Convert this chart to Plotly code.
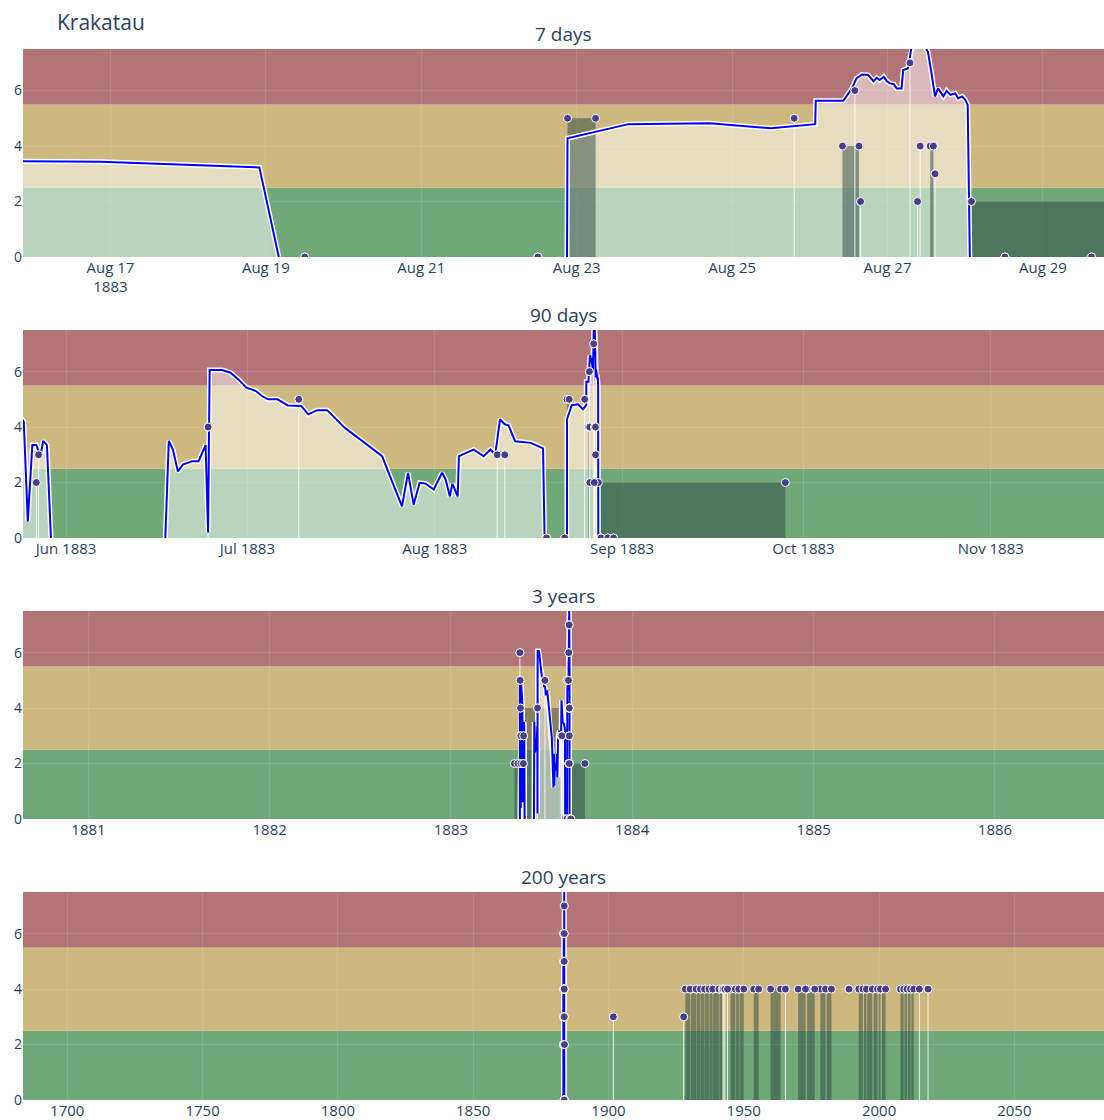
import plotly.graph_objects as go
from plotly.subplots import make_subplots
from datetime import datetime, timedelta

TITLE = "Krakatau"
PANEL_TITLES = ["7 days", "90 days", "3 years", "200 years"]

# Centre of every window and the half-width of each panel, in days
CENTER = datetime(1883, 8, 22, 21, 0)
HALF_WINDOW_DAYS = [7, 90, 3 * 365.25, 200 * 365.25]
TICK_STEPS = [2 * 86400000, "M1", "M12", "M600"]
# share of each window that fits inside the page width
VISIBLE_SHARE = [0.9936, 0.9936, 0.9936, 0.9987]

# Alert bands on the level axis
BAND_LOW = [0, 2.5, 5.5]
BAND_HIGH = [2.5, 5.5, 8.0]
BAND_COLORS = ["rgb(112,168,121)", "rgb(205,184,127)", "rgb(178,116,119)"]

# Activity index; None separates the active episodes
ACT_TIME = [
    "1883-05-20 00:00", "1883-05-20 02:00", "1883-05-21 00:00", "1883-05-21 18:00",
    "1883-05-22 12:00", "1883-05-23 12:00", "1883-05-24 08:00", "1883-05-25 00:00",
    "1883-05-25 16:00", "1883-05-26 10:00", "1883-05-27 02:00", "1883-05-27 18:00",
    "1883-05-28 05:00", "1883-05-28 20:00", "1883-05-29 12:00", None,
    "1883-06-17 10:00", "1883-06-18 00:00", "1883-06-18 16:00", "1883-06-19 12:00",
    "1883-06-20 08:00", "1883-06-21 22:00", "1883-06-22 22:00", "1883-06-24 02:00",
    "1883-06-24 12:00", "1883-06-24 18:00", "1883-06-26 20:00", "1883-06-28 05:00",
    "1883-06-29 12:00", "1883-06-30 20:00", "1883-07-02 10:00", "1883-07-03 10:00",
    "1883-07-04 10:00", "1883-07-06 00:00", "1883-07-07 16:00", "1883-07-09 22:00",
    "1883-07-11 02:00", "1883-07-12 13:00", "1883-07-14 05:00", "1883-07-15 12:00",
    "1883-07-17 02:00", "1883-07-20 10:00", "1883-07-23 07:00", "1883-07-24 14:00",
    "1883-07-26 14:00", "1883-07-27 14:00", "1883-07-28 12:00", "1883-07-29 12:00",
    "1883-07-30 12:00", "1883-07-31 20:00", "1883-08-02 05:00", "1883-08-02 19:00",
    "1883-08-03 12:00", "1883-08-03 22:00", "1883-08-04 19:00", "1883-08-05 00:00",
    "1883-08-07 10:00", "1883-08-09 02:00", "1883-08-10 05:00", "1883-08-11 00:00",
    "1883-08-11 19:00", "1883-08-12 14:00", "1883-08-13 05:00", "1883-08-14 07:00",
    "1883-08-16 21:00", "1883-08-18 22:00", "1883-08-19 04:00", None,
    "1883-08-22 21:00", "1883-08-22 21:10", "1883-08-23 16:00", "1883-08-24 17:00",
    "1883-08-25 12:00", "1883-08-26 01:40", "1883-08-26 01:50", "1883-08-26 10:20",
    "1883-08-26 13:00", "1883-08-26 14:24", "1883-08-26 16:05", "1883-08-26 18:00",
    "1883-08-26 19:40", "1883-08-26 20:40", "1883-08-26 21:35", "1883-08-26 22:50",
    "1883-08-26 23:45", "1883-08-27 00:45", "1883-08-27 01:55", "1883-08-27 02:50",
    "1883-08-27 04:20", "1883-08-27 04:50", "1883-08-27 06:15", "1883-08-27 06:40",
    "1883-08-27 07:25", "1883-08-27 08:00", "1883-08-27 10:30", "1883-08-27 12:30",
    "1883-08-27 13:40", "1883-08-27 14:40", "1883-08-27 15:35", "1883-08-27 16:20",
    "1883-08-27 17:15", "1883-08-27 18:15", "1883-08-27 19:25", "1883-08-27 20:55",
    "1883-08-27 21:50", "1883-08-27 23:00", "1883-08-28 00:00", "1883-08-28 00:45",
    "1883-08-28 01:25",
]
ACT_LEVEL = [
    0, 4.9, 4.7, 0.4,
    4.9, 4.6, 4.4, 4.2,
    0.6, 3.35, 3.35, 2.95,
    3.5, 3.35, 0, None,
    0, 3.5, 3.2, 2.4,
    2.65, 2.77, 2.77, 3.35,
    0.2, 6.06, 6.06, 5.96,
    5.72, 5.42, 5.3, 5.12,
    5.0, 5.0, 4.78, 4.76,
    4.46, 4.61, 4.61, 4.34,
    3.98, 3.43, 2.95, 2.23,
    1.14, 2.35, 1.2, 1.99,
    1.96, 1.75, 2.35, 2.11,
    1.5, 1.96, 1.5, 2.95,
    3.19, 2.95, 3.19, 3.0,
    4.28, 4.1, 4.06, 3.49,
    3.43, 3.23, 0, None,
    0, 4.28, 4.79, 4.82,
    4.64, 4.79, 5.63, 5.63,
    6.08, 6.44, 6.58, 6.56,
    6.34, 6.46, 6.38, 6.5,
    6.34, 6.26, 6.23, 6.08,
    6.08, 6.74, 6.8, 7.01,
    7.6, 7.8, 7.8, 7.39,
    6.56, 5.79, 6.08, 5.96,
    5.79, 5.99, 5.85, 5.9,
    5.72, 5.79, 5.67, 5.49,
    0,
]

# Eruptive events: start, end and VEI
EV_START = [
    "1883-05-09 00:00", "1883-05-20 00:00", "1883-05-20 12:00", "1883-05-21 06:00",
    "1883-05-21 18:00", "1883-05-22 06:00", "1883-05-27 02:00", "1883-05-27 11:00",
    "1883-06-24 12:00", "1883-07-09 12:00", "1883-08-11 08:00", "1883-08-12 14:00",
    "1883-08-19 12:00", "1883-08-22 12:00", "1883-08-22 21:10", "1883-08-25 19:10",
    "1883-08-26 10:05", "1883-08-26 13:55", "1883-08-26 15:40", "1883-08-27 06:55",
    "1883-08-27 09:15", "1883-08-27 10:05", "1883-08-27 13:10", "1883-08-27 14:40",
    "1883-08-28 01:55", "1883-08-28 12:15", "1883-08-29 15:00", "1883-08-30 14:00",
    "1901-10-20", "1927-10-20",
    "1928-05-25", "1930-06-01", "1932-08-01", "1934-03-01", "1935-09-01",
    "1937-05-01", "1938-09-01", "1941-01-01", "1942-06-01", "1943-01-01",
    "1944-01-01", "1945-02-05", "1947-03-01", "1948-06-01", "1953-09-10",
    "1959-11-25", "1965-05-25", "1970-02-05", "1973-06-01", "1978-04-20",
    "1980-09-01", "1988-10-20", "1992-07-01", "1994-06-01", "1995-08-10",
    "1998-01-01", "1999-11-01", "2001-02-01", "2007-11-25", "2009-06-01",
    "2010-09-01", "2011-12-01", "2014-11-25", "2018-02-05",
]
EV_END = [
    "1883-05-16 00:00", "1883-05-20 00:00", "1883-05-20 12:00", "1883-05-21 06:00",
    "1883-05-21 18:00", "1883-05-22 06:00", "1883-05-27 02:00", "1883-05-27 11:00",
    "1883-06-24 12:00", "1883-07-09 12:00", "1883-08-11 08:00", "1883-08-12 14:00",
    "1883-08-19 12:00", "1883-08-22 12:00", "1883-08-23 05:50", "1883-08-25 19:10",
    "1883-08-26 15:10", "1883-08-26 13:55", "1883-08-26 15:40", "1883-08-27 06:55",
    "1883-08-27 09:15", "1883-08-27 10:05", "1883-08-27 14:10", "1883-08-27 14:40",
    "1883-09-28 00:00", "1883-08-28 12:15", "1883-08-29 15:00", "1883-08-30 14:00",
    "1901-10-20", "1927-10-20",
    "1930-03-01", "1932-05-25", "1934-01-01", "1935-07-01", "1937-02-05",
    "1938-07-01", "1940-10-20", "1942-01-01", "1942-06-01", "1943-01-01",
    "1944-01-01", "1946-11-25", "1948-03-01", "1950-01-01", "1955-07-01",
    "1963-08-10", "1965-05-25", "1972-10-20", "1976-03-15", "1980-03-15",
    "1982-05-25", "1988-11-20", "1994-01-01", "1995-05-01", "1997-07-01",
    "1999-06-01", "2000-07-01", "2002-05-25", "2009-02-05", "2010-04-20",
    "2011-08-10", "2012-10-20", "2014-11-25", "2018-02-05",
]
EV_VEI = [
    2, 6, 5, 4,
    3, 2, 2, 3,
    4, 5, 3, 3,
    0, 0, 5, 5,
    4, 6, 2, 7,
    2, 4, 4, 3,
    2, 0, 0, 0,
    3, 3,
    4, 4, 4, 4, 4,
    4, 4, 4, 4, 4,
    4, 4, 4, 4, 4,
    4, 4, 4, 4, 4,
    4, 4, 4, 4, 4,
    4, 4, 4, 4, 4,
    4, 4, 4, 4,
]

# Extended activity block that shows on the 3-year view
BLOCK_3Y_START = ["1883-05-28"]
BLOCK_3Y_END = ["1883-08-08"]
BLOCK_3Y_VEI = [4]


def boxes(starts, ends, veis):
    """Closed rectangles (baseline to level) for events with a duration."""
    bx, by = [], []
    for s, e, v in zip(starts, ends, veis):
        if s != e:
            bx += [s, s, e, e, s, None]
            by += [0, v, v, 0, 0, None]
    return bx, by


box_x, box_y = boxes(EV_START, EV_END, EV_VEI)
blk_x, blk_y = boxes(BLOCK_3Y_START, BLOCK_3Y_END, BLOCK_3Y_VEI)

# thin stems for instantaneous events
stem_x, stem_y = [], []
for s, e, v in zip(EV_START, EV_END, EV_VEI):
    if s == e:
        stem_x += [s, s, None]
        stem_y += [0, v, None]
dot_x = EV_START + EV_END
dot_y = EV_VEI + EV_VEI

BOX_FILL = "rgba(40,70,65,0.5)"
GRID = "rgba(255,255,255,0.12)"

fig = make_subplots(rows=4, cols=1, subplot_titles=PANEL_TITLES,
                    vertical_spacing=0.0695)

for r in range(1, 5):
    if r == 3:
        fig.add_trace(go.Scatter(x=blk_x, y=blk_y, mode="lines", fill="toself",
                                 fillcolor="rgba(45,60,55,0.45)",
                                 line=dict(width=0), hoverinfo="skip"),
                      row=r, col=1)
    # soft fill under the activity curve
    fig.add_trace(go.Scatter(x=ACT_TIME, y=ACT_LEVEL, mode="lines",
                             line=dict(width=0), fill="tozeroy",
                             fillcolor="rgba(255,255,255,0.5)",
                             hoverinfo="skip"), row=r, col=1)
    fig.add_trace(go.Scatter(x=box_x, y=box_y, mode="lines", fill="toself",
                             fillcolor=BOX_FILL,
                             line=dict(width=0), hoverinfo="skip"),
                  row=r, col=1)
    fig.add_trace(go.Scatter(x=stem_x, y=stem_y, mode="lines",
                             line=dict(color="rgba(255,255,255,0.85)", width=1),
                             hoverinfo="skip"), row=r, col=1)
    # activity curve with a white halo
    fig.add_trace(go.Scatter(x=ACT_TIME, y=ACT_LEVEL, mode="lines",
                             line=dict(color="white", width=5),
                             hoverinfo="skip"), row=r, col=1)
    fig.add_trace(go.Scatter(x=ACT_TIME, y=ACT_LEVEL, mode="lines",
                             line=dict(color="blue", width=2)), row=r, col=1)
    fig.add_trace(go.Scatter(x=dot_x, y=dot_y, mode="markers",
                             marker=dict(color="darkslateblue", size=8,
                                         line=dict(color="white", width=1))),
                  row=r, col=1)

    for lo, hi, col in zip(BAND_LOW, BAND_HIGH, BAND_COLORS):
        fig.add_hrect(y0=lo, y1=hi, fillcolor=col, opacity=1, line_width=0,
                      layer="below", row=r, col=1,
                      exclude_empty_subplots=False)

    half = timedelta(days=HALF_WINDOW_DAYS[r - 1])
    left = CENTER - half
    xa = dict(range=[left, left + 2 * half * VISIBLE_SHARE[r - 1]],
              dtick=TICK_STEPS[r - 1], gridcolor=GRID, tickfont=dict(size=15))
    if r == 1:
        xa["tick0"] = "1883-08-17"
    fig.update_xaxes(row=r, col=1, **xa)
    fig.update_yaxes(row=r, col=1, range=[0, 7.5], dtick=2, tick0=0,
                     gridcolor=GRID, zeroline=False, tickfont=dict(size=14))

fig.update_annotations(font_size=19)
fig.update_layout(
    width=1104, height=1120,
    margin=dict(l=23, r=0, t=49, b=20),
    showlegend=False,
    hovermode=False,
    plot_bgcolor="rgba(0,0,0,0)",
    font=dict(family="Open Sans"),
    title=dict(text=TITLE, x=0.0516, xanchor="left", y=0.980, yanchor="middle",
               font=dict(size=21)),
)

fig.write_html("out.html")
